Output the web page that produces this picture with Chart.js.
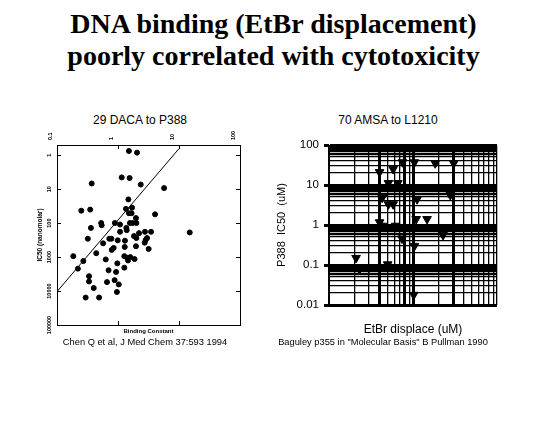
<!DOCTYPE html>
<html>
<head>
<meta charset="utf-8">
<script src="https://cdn.jsdelivr.net/npm/chart.js@4.4.1/dist/chart.umd.min.js"></script>
<style>
  body { margin: 0; background: #fff; width: 555px; height: 444px; position: relative; overflow: hidden; font-family: "Liberation Sans", Arial, sans-serif; color: #000; }
  .t { position: absolute; white-space: nowrap; text-align: center; }
  #title { left: -4px; width: 555px; top: 8px; font: bold 28px/32px "Liberation Serif", "Times New Roman", serif; }
  .sub { font-size: 12px; line-height: 14px; top: 113px; width: 200px; }
  .cap { font-size: 9.3px; line-height: 11px; top: 337px; width: 260px; }
  canvas { position: absolute; }
  #daca { left: 30px; top: 118px; }
  #amsa { left: 262px; top: 125px; }
</style>
</head>
<body>
<div id="title" class="t">DNA binding (EtBr displacement)<br>poorly correlated with cytotoxicity</div>
<div class="t sub" style="left:40px">29 DACA to P388</div>
<div class="t sub" style="left:288px">70 AMSA to L1210</div>
<canvas id="daca" width="230" height="225"></canvas>
<canvas id="amsa" width="248" height="220"></canvas>
<div class="t cap" style="left:15px">Chen Q et al, J Med Chem 37:593 1994</div>
<div class="t cap" style="left:253px">Baguley p355 in "Molecular Basis" B Pullman 1990</div>
<script>
// 29 DACA analogues vs P388 (left panel)
const dacaBinding = [1.51, 2.05, 1.15, 1.55, 0.37, 2.36, 5.7, 1.48, 0.25, 0.35,
  1.35, 1.70, 1.51, 1.67, 4.05, 1.97, 0.53, 0.54, 0.36, 0.89,
  1.08, 1.57, 1.74, 2.0, 1.37, 1.39, 1.08, 2.21, 2.77, 3.48,
  15.0, 1.83, 2.0, 2.99, 2.84, 2.74, 0.32, 0.72, 0.78, 0.99,
  0.57, 1.30, 1.97, 1.29, 0.85, 0.79, 3.18, 0.44, 0.185, 1.27,
  1.41, 1.46, 1.59, 1.87, 0.63, 0.27, 0.975, 0.22, 1.27, 0.70,
  0.93, 0.335, 0.335, 0.88, 0.66, 1.03, 0.40, 0.96, 0.295, 0.49];
const dacaIC50 = [0.75, 0.84, 4.5, 4.7, 6.8, 7.3, 9.3, 20, 43, 40,
  38, 35, 51, 51, 55, 71, 99, 115, 138, 99,
  110, 99, 99, 99, 138, 161, 180, 197, 180, 180,
  188, 241, 275, 275, 315, 376, 288, 288, 288, 321,
  393, 329, 480, 502, 537, 614, 574, 767, 938, 938,
  1047, 1253, 1002, 1146, 1172, 1310, 1531, 2188, 2046, 2445,
  2735, 3650, 5214, 4772, 5458, 6374, 8147, 10650, 15560, 15560];
const dacaFitX = [0.1, 10];
const dacaFitY = [10400, 0.64];
const dacaXTicks = [0.1, 1, 10, 100];
const dacaYTicks = [1, 10, 100, 1000, 10000, 100000];

// 70 AMSA analogues vs L1210 (right panel)
const amsaEtBr = [0.21, 0.23, 0.30, 0.40, 0.58, 0.51, 0.66, 0.75, 1.04, 1.84,
  3.05, 0.43, 0.51, 0.58, 1.12, 2.78, 0.40, 0.43, 0.62, 0.74,
  1.09, 1.47, 2.28, 0.50, 1.02, 1.04];
const amsaIC50 = [0.15, 0.078, 0.086, 21, 25, 11.2, 11.2, 37, 37, 35,
  35, 4.8, 3.3, 3.3, 4.4, 5.6, 1.17, 0.96, 0.96, 0.46,
  1.41, 1.41, 0.56, 0.104, 0.018, 0.30];
const amsaYTicks = [0.01, 0.1, 1, 10, 100];
const amsaDecades = [0.01, 0.1, 1, 10];

Chart.defaults.color = '#000';
Chart.defaults.font.family = '"Liberation Sans", Arial, sans-serif';

const fixTicks = vals => scale => { scale.ticks = vals.map(v => ({ value: v })); };

const logGrid = [];
amsaDecades.forEach(d => {
  for (let m = 1; m < 10; m++) logGrid.push(+(m * d).toPrecision(3));
});
logGrid.push(100);
const gridIn = (lo, hi) => scale => {
  scale.ticks = logGrid.filter(v => v >= lo - 1e-9 && v <= hi + 1e-9).map(v => ({ value: v }));
};
const mantissa = v => Math.round(v / Math.pow(10, Math.floor(Math.log10(v) + 1e-9)));

const smallBold = { size: 5.5, weight: 'bold' };
const black = { display: true, color: '#000', width: 1 };

new Chart(document.getElementById('daca'), {
  type: 'scatter',
  data: {
    datasets: [
      {
        data: dacaBinding.map((x, i) => ({ x: x, y: dacaIC50[i] })),
        backgroundColor: '#000', borderColor: '#000',
        pointRadius: 2.5, pointHoverRadius: 2.5
      },
      {
        type: 'line',
        data: dacaFitX.map((x, i) => ({ x: x, y: dacaFitY[i] })),
        borderColor: '#000', borderWidth: 1, pointRadius: 0, fill: false
      }
    ]
  },
  options: {
    responsive: false, animation: false, events: [],
    layout: { padding: 0 },
    plugins: { legend: { display: false }, tooltip: { enabled: false } },
    scales: {
      x: {
        type: 'logarithmic', position: 'top', min: 0.1, max: 100,
        afterBuildTicks: fixTicks(dacaXTicks),
        afterFit: s => { s.height = 27; },
        grid: { drawOnChartArea: false, tickLength: -4, color: '#000' },
        border: black,
        ticks: { minRotation: 90, maxRotation: 90, padding: 9, autoSkip: false, font: smallBold, callback: v => String(v) }
      },
      x2: {
        type: 'logarithmic', position: 'bottom', min: 0.1, max: 100,
        afterBuildTicks: fixTicks(dacaXTicks),
        afterFit: s => { s.height = 18; },
        grid: { drawOnChartArea: false, tickLength: -4, color: '#000' },
        border: black,
        ticks: { display: false },
        title: { display: true, text: 'Binding Constant', font: { size: 6, weight: 'bold' }, padding: { top: 0, bottom: 8 } }
      },
      y: {
        type: 'logarithmic', position: 'left', reverse: true, min: 0.5, max: 100000,
        afterBuildTicks: fixTicks(dacaYTicks),
        afterFit: s => { s.width = 27; },
        grid: { drawOnChartArea: false, tickLength: -4, color: '#000' },
        border: black,
        ticks: { minRotation: 90, maxRotation: 90, crossAlign: 'center', padding: 2, autoSkip: false, font: smallBold, callback: v => String(v) },
        title: { display: true, text: 'IC50 (nanomolar)', font: { size: 6.5, weight: 'bold' }, padding: { top: 6, bottom: 0 } }
      },
      y2: {
        type: 'logarithmic', position: 'right', reverse: true, min: 0.5, max: 100000,
        afterBuildTicks: fixTicks(dacaYTicks),
        afterFit: s => { s.width = 20; },
        grid: { drawOnChartArea: false, tickLength: -4, color: '#000' },
        border: black,
        ticks: { display: false }
      }
    }
  }
});

new Chart(document.getElementById('amsa'), {
  type: 'scatter',
  data: {
    datasets: [{
      data: amsaEtBr.map((x, i) => ({ x: x, y: amsaIC50[i] })),
      backgroundColor: '#000', borderColor: '#000',
      pointStyle: 'triangle', rotation: 180,
      pointRadius: 5, pointHoverRadius: 5
    }]
  },
  options: {
    responsive: false, animation: false, events: [],
    layout: { padding: { top: 20, right: 13, left: 0, bottom: 0 } },
    plugins: { legend: { display: false }, tooltip: { enabled: false } },
    scales: {
      x: {
        type: 'logarithmic', min: 0.1, max: 10,
        afterBuildTicks: gridIn(0.1, 10),
        afterFit: s => { s.height = 40; },
        grid: {
          color: '#000', drawTicks: false,
          lineWidth: c => ([0.4, 0.8, 1, 3].includes(c.tick.value) ? 3 : 1.3)
        },
        border: { display: false },
        ticks: { display: false },
        title: { display: true, text: 'EtBr displace (uM)', font: { size: 12 }, padding: { top: 0, bottom: 8 } }
      },
      y: {
        type: 'logarithmic', min: 0.01, max: 100,
        afterBuildTicks: gridIn(0.01, 100),
        afterFit: s => { s.width = 67; },
        grid: {
          color: '#000', tickLength: 5,
          tickColor: c => (amsaYTicks.includes(c.tick.value) ? '#000' : 'rgba(0,0,0,0)'),
          lineWidth: c => { const m = mantissa(c.tick.value); return m === 1 ? 3 : (m >= 6 ? 2.2 : 1.2); }
        },
        border: black,
        ticks: {
          autoSkip: false, padding: 5, font: { size: 11.5 },
          callback: v => (amsaYTicks.includes(v) ? String(v) : '')
        },
        title: { display: true, text: 'P388  IC50  (uM)', font: { size: 11 }, padding: { top: 13, bottom: 0 } }
      }
    }
  }
});
</script>
</body>
</html>
